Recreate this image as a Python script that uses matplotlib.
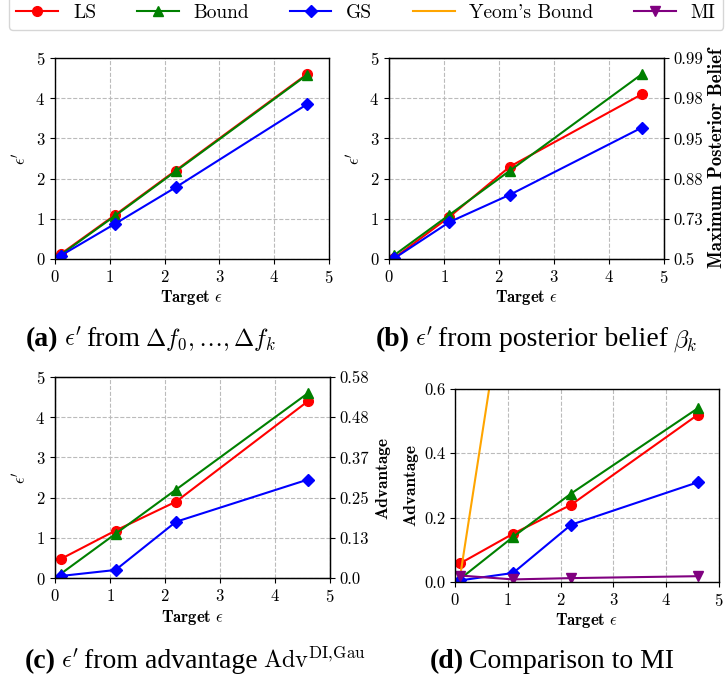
import matplotlib
matplotlib.use("Agg")
import matplotlib.pyplot as plt
from matplotlib.lines import Line2D

plt.rcParams["font.family"] = "serif"
plt.rcParams["font.serif"] = ["cmr10"]
plt.rcParams["mathtext.fontset"] = "cm"
plt.rcParams["axes.formatter.use_mathtext"] = True
plt.rcParams["axes.unicode_minus"] = False

# target epsilon values
eps = [0.1, 1.1, 2.2, 4.6]

# (a) eps' from delta f
a_ls = [0.12, 1.1, 2.2, 4.6]
a_bound = [0.1, 1.08, 2.18, 4.58]
a_gs = [0.08, 0.88, 1.78, 3.85]

# (b) eps' from posterior belief
b_ls = [0.03, 1.05, 2.3, 4.1]
b_bound = [0.1, 1.1, 2.2, 4.6]
b_gs = [0.02, 0.92, 1.6, 3.27]
b_right_ticks = ["0.5", "0.73", "0.88", "0.95", "0.98", "0.99"]

# (c) eps' from advantage
c_ls = [0.47, 1.18, 1.9, 4.4]
c_bound = [0.1, 1.1, 2.2, 4.6]
c_gs = [0.05, 0.2, 1.4, 2.45]
c_right_ticks = ["0.0", "0.13", "0.25", "0.37", "0.48", "0.58"]

# (d) advantage comparison to MI
d_ls = [0.058, 0.15, 0.24, 0.52]
d_bound = [0.01, 0.14, 0.275, 0.54]
d_gs = [0.005, 0.028, 0.178, 0.31]
d_yeom = [0.02, 1.08, 3.5, 9.9]
d_mi = [0.02, 0.008, 0.012, 0.018]

LW = 1.5
MS = 7
W, H = 726, 683


def style_ax(ax):
    ax.set_xlim(0, 5)
    ax.set_xticks(range(6))
    ax.grid(True, linestyle="--", color="#bbbbbb", linewidth=0.8)
    ax.set_axisbelow(True)
    ax.tick_params(labelsize=12)
    for s in ax.spines.values():
        s.set_linewidth(1.0)
    ax.set_xlabel(r"Target $\epsilon$", family="cmb10", fontsize=12, labelpad=2)


def plot_three(ax, ls, bound, gs):
    ax.plot(eps, ls, color="red", marker="o", lw=LW, ms=MS)
    ax.plot(eps, bound, color="green", marker="^", lw=LW, ms=MS)
    ax.plot(eps, gs, color="blue", marker="D", lw=LW, ms=6)
    ax.set_ylim(0, 5)
    ax.set_yticks(range(6))
    ax.set_ylabel(r"$\epsilon'$", fontsize=12, labelpad=5)


fig = plt.figure(figsize=(7.26, 6.83), dpi=100)

ax_a = fig.add_axes([0.0758, 0.6208, 0.3774, 0.2943])
plot_three(ax_a, a_ls, a_bound, a_gs)
style_ax(ax_a)

ax_b = fig.add_axes([0.5358, 0.6208, 0.3788, 0.2943])
plot_three(ax_b, b_ls, b_bound, b_gs)
style_ax(ax_b)
tb = ax_b.twinx()
tb.set_ylim(0, 5)
tb.set_yticks(range(6))
tb.set_yticklabels(b_right_ticks)
tb.tick_params(labelsize=12)
tb.set_ylabel("Maximum Posterior Belief", family="cmb10", fontsize=13.5, labelpad=3)

ax_c = fig.add_axes([0.0758, 0.1537, 0.3788, 0.2943])
plot_three(ax_c, c_ls, c_bound, c_gs)
style_ax(ax_c)
tc = ax_c.twinx()
tc.set_ylim(0, 5)
tc.set_yticks(range(6))
tc.set_yticklabels(c_right_ticks)
tc.tick_params(labelsize=12)
tc.set_ylabel("Advantage", family="cmb10", fontsize=12.5, labelpad=4)

ax_d = fig.add_axes([0.6267, 0.1479, 0.3636, 0.2826])
ax_d.plot(eps, d_ls, color="red", marker="o", lw=LW, ms=MS)
ax_d.plot(eps, d_bound, color="green", marker="^", lw=LW, ms=MS)
ax_d.plot(eps, d_gs, color="blue", marker="D", lw=LW, ms=6)
ax_d.plot(eps, d_yeom, color="orange", lw=LW)
ax_d.plot(eps, d_mi, color="purple", marker="v", lw=LW, ms=MS)
ax_d.set_ylim(0, 0.6)
ax_d.set_yticks([0, 0.2, 0.4, 0.6])
ax_d.set_yticklabels(["0.0", "0.2", "0.4", "0.6"])
style_ax(ax_d)
ax_d.set_ylabel("Advantage", family="cmb10", fontsize=12.5, labelpad=4)

# shared legend on top
handles = [
    Line2D([], [], color="red", marker="o", lw=LW, ms=MS),
    Line2D([], [], color="green", marker="^", lw=LW, ms=MS),
    Line2D([], [], color="blue", marker="D", lw=LW, ms=6),
    Line2D([], [], color="orange", lw=LW),
    Line2D([], [], color="purple", marker="v", lw=LW, ms=MS),
]
labels = ["LS", "Bound", "GS", "Yeom's Bound", "MI"]
fig.legend(handles, labels, loc="upper left", bbox_to_anchor=(0.012, 1.005),
           ncol=5, fontsize=14, handlelength=2.15, handletextpad=0.75,
           columnspacing=2.1, borderaxespad=0, frameon=True, fancybox=True,
           edgecolor="#cccccc")

# sub-captions, laid out piece by piece: bold tag, Times text, CM math
captions = [
    (26, 0.493, [("(a)", "b"), (r"$\epsilon'$", "m"), ("from", "t"),
                 (r"$\Delta f_0,\ldots,\Delta f_k$", "m")]),
    (376, 0.493, [("(b)", "b"), (r"$\epsilon'$", "m"), ("from posterior belief", "t"),
                  (r"$\beta_k$", "m")]),
    (25, 0.022, [("(c)", "b"), (r"$\epsilon'$", "m"), ("from advantage", "t"),
                 (r"$\mathrm{Adv}^{\mathrm{DI,\!Gau}}$", "m")]),
    (430, 0.022, [("(d)", "b"), ("Comparison to MI", "t")]),
]
fig.canvas.draw()
renderer = fig.canvas.get_renderer()
for x_px, y, parts in captions:
    x = x_px
    for s, kind in parts:
        kw = dict(family="Liberation Serif", fontsize=20, va="baseline")
        if kind == "b":
            kw["weight"] = "bold"
        elif kind == "m":
            kw["fontsize"] = 17.5
            kw["math_fontfamily"] = "cm"
        t = fig.text(x / W, y, s, **kw)
        bb = t.get_window_extent(renderer)
        x = bb.x1 + 5

fig.savefig("out.png", dpi=100)
